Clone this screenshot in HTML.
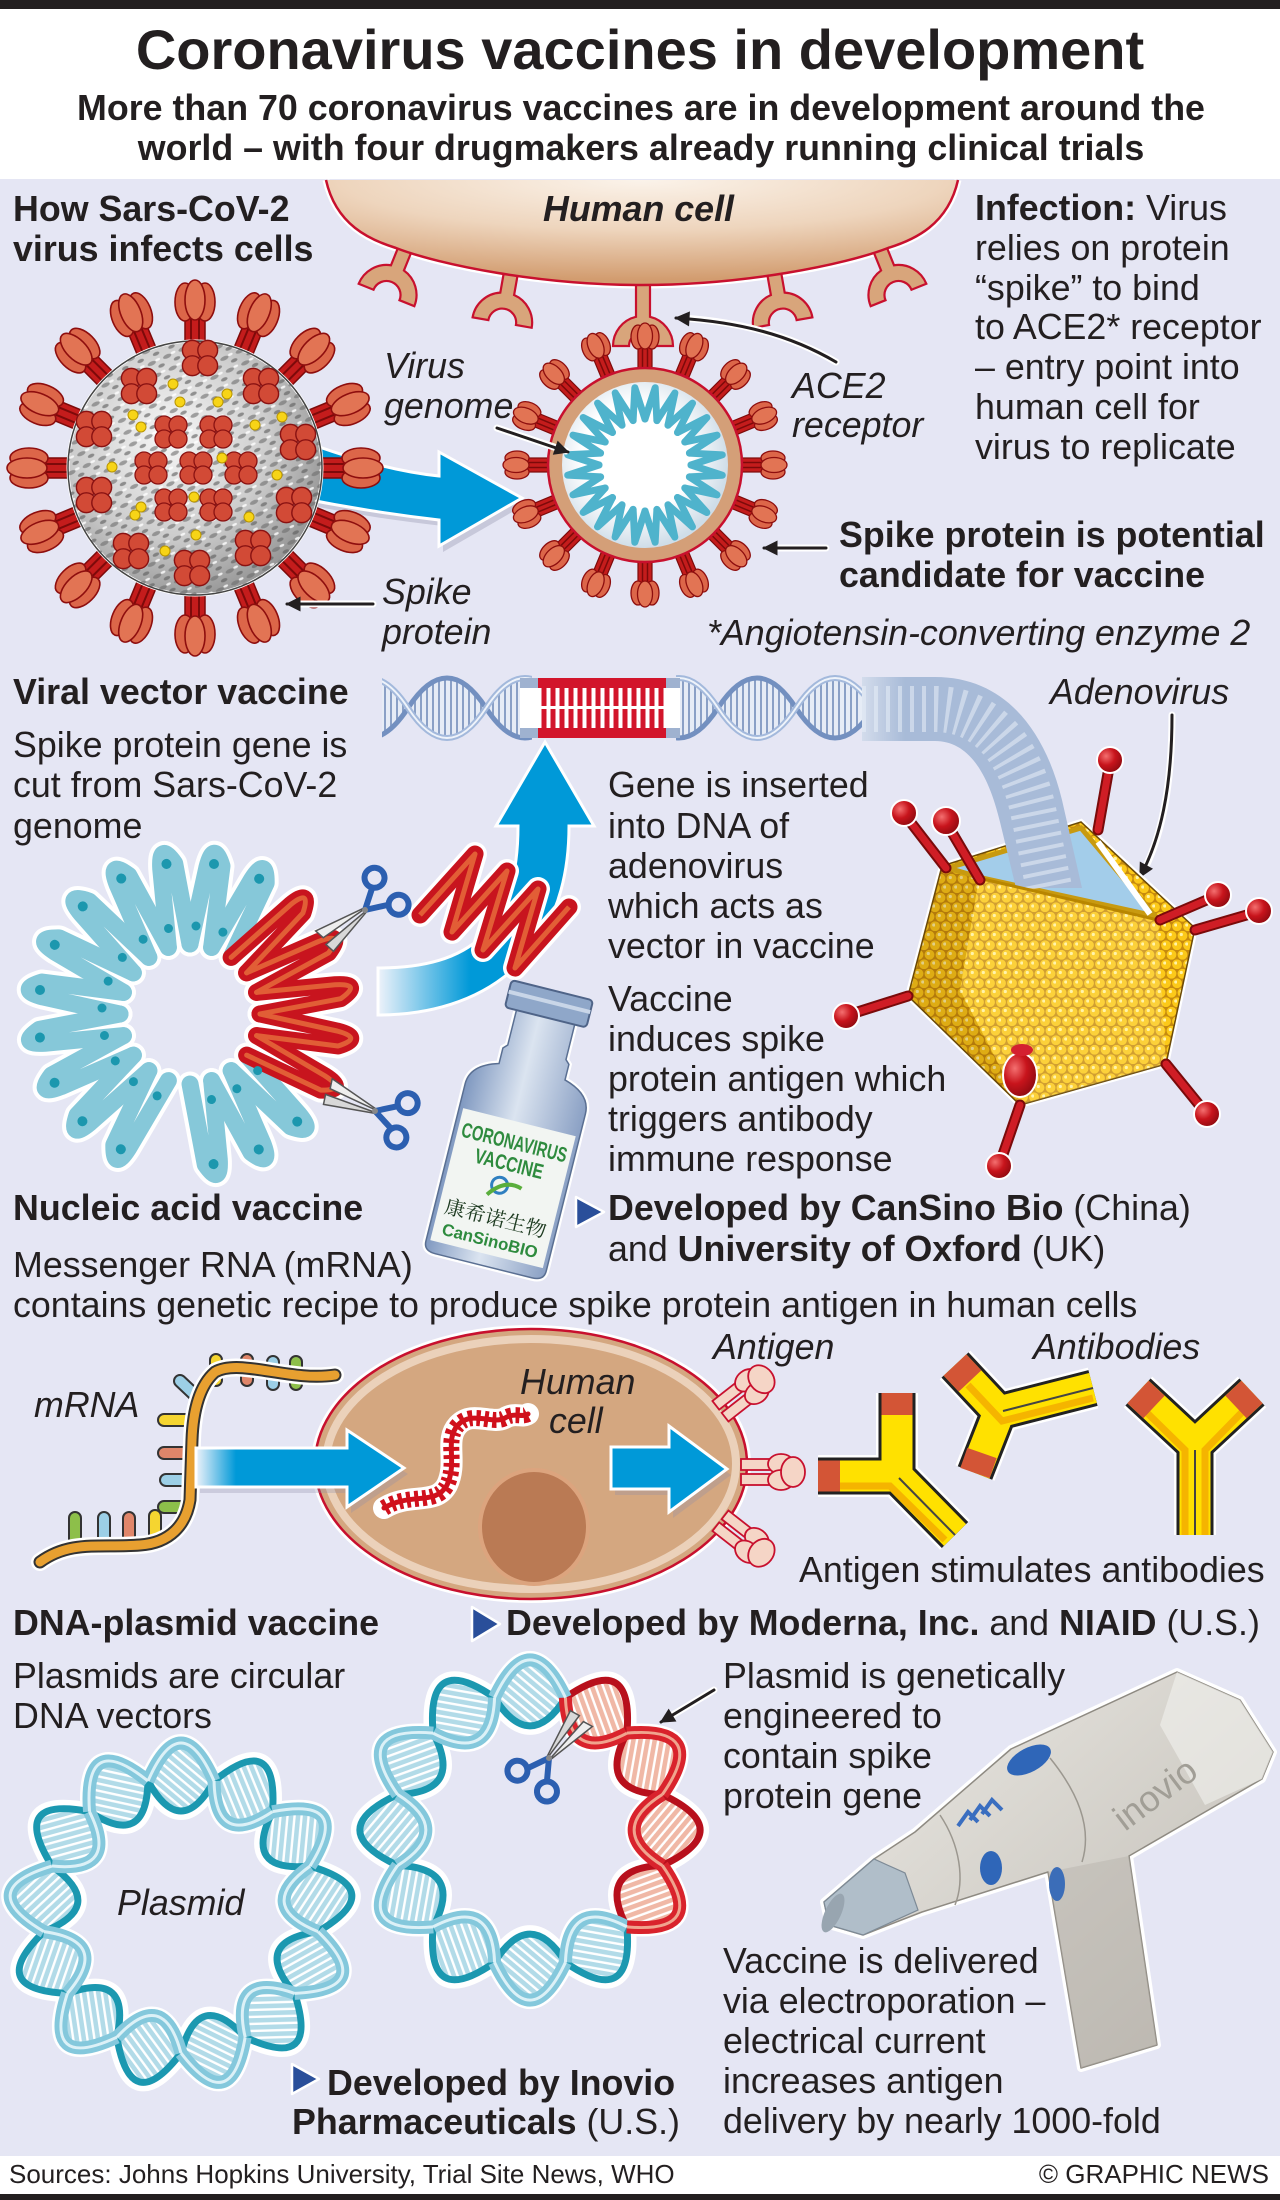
<!DOCTYPE html>
<html><head><meta charset="utf-8">
<style>
html,body{margin:0;padding:0;background:#e5e6f4;}
svg{display:block}
.f{font-family:"Liberation Sans",Arial,sans-serif}
.b{font-weight:bold}
.i{font-style:italic}
</style></head>
<body>
<svg width="1280" height="2200" viewBox="0 0 1280 2200" xmlns="http://www.w3.org/2000/svg">
<defs>
<radialGradient id="gCell" cx="0.5" cy="0" r="0.95">
 <stop offset="0" stop-color="#fbf3ea"/><stop offset="0.5" stop-color="#eed5bd"/><stop offset="1" stop-color="#d29c6f"/>
</radialGradient>
<radialGradient id="gSph" cx="0.4" cy="0.38" r="0.7">
 <stop offset="0" stop-color="#f7f7f7"/><stop offset="0.55" stop-color="#cdcdcd"/><stop offset="1" stop-color="#8c8c8c"/>
</radialGradient>
<pattern id="pSpk" width="17" height="13" patternUnits="userSpaceOnUse" patternTransform="rotate(-25)">
 <ellipse cx="5" cy="4" rx="4.5" ry="2" fill="#6c6c6c" opacity="0.6"/>
 <ellipse cx="13" cy="10" rx="3.5" ry="1.8" fill="#5a5a5a" opacity="0.6"/>
 <ellipse cx="12" cy="3" rx="2.5" ry="1.2" fill="#ffffff" opacity="0.8"/>
</pattern>
<radialGradient id="gIn" cx="0.45" cy="0.45" r="0.55">
 <stop offset="0" stop-color="#ffffff"/><stop offset="0.6" stop-color="#ffffff"/><stop offset="1" stop-color="#cfdde8"/>
</radialGradient>
<linearGradient id="gA2" x1="378" y1="0" x2="470" y2="0" gradientUnits="userSpaceOnUse">
 <stop offset="0" stop-color="#eef2fa"/><stop offset="1" stop-color="#0099d8"/>
</linearGradient>
<linearGradient id="gA3" x1="196" y1="0" x2="236" y2="0" gradientUnits="userSpaceOnUse">
 <stop offset="0" stop-color="#eef2fa"/><stop offset="1" stop-color="#0099d8"/>
</linearGradient>
<linearGradient id="gTube" x1="850" y1="0" x2="905" y2="0" gradientUnits="userSpaceOnUse">
 <stop offset="0" stop-color="#dfe5f1"/><stop offset="1" stop-color="#a8bbd8"/>
</linearGradient>
<pattern id="pV" width="6" height="10" patternUnits="userSpaceOnUse">
 <rect width="6" height="10" fill="#e6ecf6"/><rect width="2" height="10" fill="#8aa0c6"/>
</pattern>
<pattern id="pDot" width="11" height="19" patternUnits="userSpaceOnUse">
 <rect width="11" height="19" fill="#c68a0e"/>
 <circle cx="5.5" cy="4.75" r="4.9" fill="#fcc919"/>
 <circle cx="0" cy="14.25" r="4.9" fill="#fcc919"/>
 <circle cx="11" cy="14.25" r="4.9" fill="#fcc919"/>
 <circle cx="4.3" cy="3.5" r="1.6" fill="#fff3a8"/>
 <circle cx="9.8" cy="13" r="1.6" fill="#fff3a8"/>
</pattern>
<pattern id="pRB" width="7" height="7" patternUnits="userSpaceOnUse" patternTransform="rotate(40)">
 <rect width="7" height="7" fill="#b2dbe8"/><rect width="7" height="2.4" fill="#ffffff"/>
</pattern>
<pattern id="pRR" width="7" height="7" patternUnits="userSpaceOnUse" patternTransform="rotate(40)">
 <rect width="7" height="7" fill="#f0b8a6"/><rect width="7" height="2.4" fill="#ffffff"/>
</pattern>
<linearGradient id="gGlass" x1="0" y1="0" x2="1" y2="0">
 <stop offset="0" stop-color="#7f98c0"/><stop offset="0.45" stop-color="#dbe4f0"/><stop offset="1" stop-color="#8aa0c4"/>
</linearGradient>
<linearGradient id="gDev" x1="0" y1="0" x2="1" y2="1">
 <stop offset="0" stop-color="#eceae5"/><stop offset="1" stop-color="#bdb9b1"/>
</linearGradient>
<radialGradient id="gBall" cx="0.35" cy="0.35" r="0.7">
 <stop offset="0" stop-color="#f47070"/><stop offset="0.5" stop-color="#c8141c"/><stop offset="1" stop-color="#8e0a10"/>
</radialGradient>
<marker id="ah" viewBox="0 0 10 10" refX="9" refY="5" markerWidth="6" markerHeight="5" orient="auto" markerUnits="strokeWidth">
 <path d="M0,0 L10,5 L0,10 Z" fill="#231f20"/>
</marker>
<clipPath id="clL"><rect x="382" y="668" width="150" height="82"/></clipPath>
<clipPath id="clR"><rect x="676" y="668" width="200" height="82"/></clipPath>

<path id="rec" d="M-7,-42 L7,-42 L7,-1.2 A30,30 0 0 1 30,28 L14,28 A14,14 0 0 0 -14,28 L-30,28 A30,30 0 0 1 -7,-1.2 Z"/>
<g id="bs">
 <rect x="-10" y="-150" width="20" height="44" fill="#c41c1c" stroke="#7d0a0a" stroke-width="1.5"/>
 <path d="M-4,-150 V-106 M4,-150 V-106" stroke="#7d0a0a" stroke-width="2"/>
 <ellipse cx="-10" cy="-166" rx="10" ry="19" fill="#dc6649" stroke="#8e0e0e" stroke-width="1.6"/>
 <ellipse cx="10" cy="-166" rx="10" ry="19" fill="#dc6649" stroke="#8e0e0e" stroke-width="1.6"/>
 <ellipse cx="0" cy="-168" rx="10" ry="20" fill="#e27454" stroke="#8e0e0e" stroke-width="1.6"/>
</g>
<g id="ss">
 <rect x="-7" y="-120" width="14" height="32" fill="#c41c1c" stroke="#7d0a0a" stroke-width="1.2"/>
 <path d="M-2.5,-120 V-88 M2.5,-120 V-88" stroke="#7d0a0a" stroke-width="1.5"/>
 <ellipse cx="-7" cy="-128" rx="7" ry="12" fill="#dc6649" stroke="#8e0e0e" stroke-width="1.3"/>
 <ellipse cx="7" cy="-128" rx="7" ry="12" fill="#dc6649" stroke="#8e0e0e" stroke-width="1.3"/>
 <ellipse cx="0" cy="-129" rx="7.5" ry="13" fill="#e27454" stroke="#8e0e0e" stroke-width="1.3"/>
</g>
<g id="cl" fill="#d24a36" stroke="#8a1212" stroke-width="1.3">
 <circle cx="-7" cy="-7" r="9"/><circle cx="7" cy="-7" r="9"/><circle cx="-7" cy="7" r="9"/><circle cx="7" cy="7" r="9"/>
</g>
<path id="cu" d="M0,-70 L17,-147 Q24,-174 32,-148 L21.6,-66.6"/>
<g id="cuD" fill="#1c97ae"><circle cx="24" cy="-150" r="5"/><circle cx="6" cy="-88" r="4.5"/></g>
<path id="gv" d="M0,-46 L10.2,-77.3 L11.9,-44.4"/>
<path id="hlF" d="M0,0 Q39,-60 78,0 Q39,60 0,0Z"/>
<path id="hlU" d="M0,0 Q39,-60 78,0"/>
<path id="hlD" d="M0,0 Q39,60 78,0"/>
<path id="lpL" d="M-33,-134 Q0,-210 33,-134 Q0,-74 -33,-134Z"/>
<path id="loL" d="M-33,-134 Q0,-210 33,-134"/>
<path id="liL" d="M-33,-134 Q0,-74 33,-134"/>
<path id="lpR" d="M-35.5,-132.3 Q0,-208 35.5,-132.3 Q0,-76 -35.5,-132.3Z"/>
<path id="loR" d="M-35.5,-132.3 Q0,-208 35.5,-132.3"/>
<path id="liR" d="M-35.5,-132.3 Q0,-76 35.5,-132.3"/>
<g id="sc">
 <path d="M6,-1 L-52,-13 L-50,-3 Z" fill="#eeeeee" stroke="#555" stroke-width="1.5"/>
 <path d="M6,1 L-50,14 L-52,4 Z" fill="#d8d8d8" stroke="#555" stroke-width="1.5"/>
 <path d="M0,0 L20,-14 M0,0 L22,10" stroke="#2c5fb0" stroke-width="6" fill="none"/>
 <circle cx="27" cy="-20" r="10" fill="none" stroke="#2c5fb0" stroke-width="6"/>
 <circle cx="30" cy="16" r="10" fill="none" stroke="#2c5fb0" stroke-width="6"/>
 <circle r="3" fill="#888"/>
</g>
<g id="ag" fill="#f5d5c6" stroke="#c8102e" stroke-width="1.8">
 <rect x="-2" y="-13" width="32" height="11"/>
 <rect x="-2" y="2" width="32" height="11"/>
 <ellipse cx="38" cy="-8" rx="13" ry="10"/>
 <ellipse cx="38" cy="8" rx="13" ry="10"/>
 <ellipse cx="50" cy="0" rx="12" ry="15"/>
</g>
</defs>

<!-- backgrounds -->
<rect width="1280" height="2200" fill="#e5e6f4"/>
<rect width="1280" height="179" fill="#ffffff"/>
<rect width="1280" height="9" fill="#231f20"/>
<rect y="2156" width="1280" height="44" fill="#ffffff"/>
<rect y="2194" width="1280" height="6" fill="#231f20"/>

<!-- ===== Top human cell ===== -->
<path d="M326,180 C336,225 370,240 396,248 C440,265 540,285 642,285 C744,285 844,265 888,248 C914,240 948,225 958,180" fill="none" stroke="#fff" stroke-width="7"/>
<g fill="#d8a57b" stroke="#c8102e" stroke-width="2.2">
 <use href="#rec" transform="translate(397,269) rotate(22)"/>
 <use href="#rec" transform="translate(507,295) rotate(10)"/>
 <use href="#rec" transform="translate(643,318)"/>
 <use href="#rec" transform="translate(778,295) rotate(-10)"/>
 <use href="#rec" transform="translate(888,269) rotate(-22)"/>
</g>
<path d="M326,180 C336,225 370,240 396,248 C440,265 540,285 642,285 C744,285 844,265 888,248 C914,240 948,225 958,180 Z" fill="url(#gCell)"/>
<path d="M326,180 C336,225 370,240 396,248 C440,265 540,285 642,285 C744,285 844,265 888,248 C914,240 948,225 958,180" fill="none" stroke="#c8102e" stroke-width="2.5"/>

<!-- ===== Blue arrow 1 ===== -->
<path d="M304,446 Q380,476 443,482 L443,458 L526,504 L443,552 L443,526 Q370,518 304,504 Z" fill="#8e90a8" opacity="0.35"/>
<path d="M300,440 Q380,470 439,476 L439,452 L522,498 L439,546 L439,520 Q370,512 300,498 Z" fill="#0099d8" stroke="#fff" stroke-width="3"/>

<!-- ===== Left virus ===== -->
<g transform="translate(195,468)">
 <use href="#bs" transform="rotate(0)"/><use href="#bs" transform="rotate(22.5)"/><use href="#bs" transform="rotate(45)"/><use href="#bs" transform="rotate(67.5)"/>
 <use href="#bs" transform="rotate(90)"/><use href="#bs" transform="rotate(112.5)"/><use href="#bs" transform="rotate(135)"/><use href="#bs" transform="rotate(157.5)"/>
 <use href="#bs" transform="rotate(180)"/><use href="#bs" transform="rotate(202.5)"/><use href="#bs" transform="rotate(225)"/><use href="#bs" transform="rotate(247.5)"/>
 <use href="#bs" transform="rotate(270)"/><use href="#bs" transform="rotate(292.5)"/><use href="#bs" transform="rotate(315)"/><use href="#bs" transform="rotate(337.5)"/>
 <circle r="127" fill="url(#gSph)" stroke="#fff" stroke-width="3"/>
 <circle r="127" fill="url(#pSpk)"/>
 <circle r="127" fill="none" stroke="#444" stroke-width="1.5"/>
</g>
<g>
 <use href="#cl" transform="translate(171,432)"/><use href="#cl" transform="translate(216,432)"/>
 <use href="#cl" transform="translate(151,468)"/><use href="#cl" transform="translate(196,468)"/><use href="#cl" transform="translate(241,468)"/>
 <use href="#cl" transform="translate(171,505)"/><use href="#cl" transform="translate(216,505)"/>
 <use href="#cl" transform="translate(200,358) scale(1.1)"/><use href="#cl" transform="translate(139,386) scale(1.1)"/><use href="#cl" transform="translate(261,386) scale(1.1)"/>
 <use href="#cl" transform="translate(94,429) scale(1.1)"/><use href="#cl" transform="translate(298,442) scale(1.1)"/><use href="#cl" transform="translate(94,495) scale(1.1)"/>
 <use href="#cl" transform="translate(294,505) scale(1.1)"/><use href="#cl" transform="translate(131,551) scale(1.1)"/><use href="#cl" transform="translate(253,548) scale(1.1)"/>
 <use href="#cl" transform="translate(192,568) scale(1.1)"/>
</g>
<g fill="#f7d417" stroke="#b89500" stroke-width="1">
 <circle cx="173" cy="384" r="5"/><circle cx="180" cy="402" r="5"/><circle cx="133" cy="415" r="5"/><circle cx="141" cy="427" r="5"/>
 <circle cx="227" cy="394" r="5"/><circle cx="218" cy="402" r="5"/><circle cx="282" cy="417" r="5"/><circle cx="255" cy="425" r="5"/>
 <circle cx="112" cy="467" r="5"/><circle cx="222" cy="458" r="5"/><circle cx="277" cy="475" r="5"/><circle cx="141" cy="507" r="5"/>
 <circle cx="135" cy="515" r="5"/><circle cx="194" cy="497" r="5"/><circle cx="249" cy="517" r="5"/><circle cx="196" cy="535" r="5"/><circle cx="165" cy="551" r="5"/>
</g>

<!-- ===== Small virus ===== -->
<g transform="translate(645,465)">
 <use href="#ss" transform="rotate(0)"/><use href="#ss" transform="rotate(22.5)"/><use href="#ss" transform="rotate(45)"/><use href="#ss" transform="rotate(67.5)"/>
 <use href="#ss" transform="rotate(90)"/><use href="#ss" transform="rotate(112.5)"/><use href="#ss" transform="rotate(135)"/><use href="#ss" transform="rotate(157.5)"/>
 <use href="#ss" transform="rotate(180)"/><use href="#ss" transform="rotate(202.5)"/><use href="#ss" transform="rotate(225)"/><use href="#ss" transform="rotate(247.5)"/>
 <use href="#ss" transform="rotate(270)"/><use href="#ss" transform="rotate(292.5)"/><use href="#ss" transform="rotate(315)"/><use href="#ss" transform="rotate(337.5)"/>
 <circle r="97" fill="#d49f78" stroke="#c8102e" stroke-width="2.5"/>
 <circle r="83" fill="url(#gIn)"/>
 <g fill="none" stroke="#4fb3cc" stroke-width="7" stroke-linecap="round" stroke-linejoin="round">
  <use href="#gv" transform="rotate(0)"/><use href="#gv" transform="rotate(15)"/><use href="#gv" transform="rotate(30)"/><use href="#gv" transform="rotate(45)"/>
  <use href="#gv" transform="rotate(60)"/><use href="#gv" transform="rotate(75)"/><use href="#gv" transform="rotate(90)"/><use href="#gv" transform="rotate(105)"/>
  <use href="#gv" transform="rotate(120)"/><use href="#gv" transform="rotate(135)"/><use href="#gv" transform="rotate(150)"/><use href="#gv" transform="rotate(165)"/>
  <use href="#gv" transform="rotate(180)"/><use href="#gv" transform="rotate(195)"/><use href="#gv" transform="rotate(210)"/><use href="#gv" transform="rotate(225)"/>
  <use href="#gv" transform="rotate(240)"/><use href="#gv" transform="rotate(255)"/><use href="#gv" transform="rotate(270)"/><use href="#gv" transform="rotate(285)"/>
  <use href="#gv" transform="rotate(300)"/><use href="#gv" transform="rotate(315)"/><use href="#gv" transform="rotate(330)"/><use href="#gv" transform="rotate(345)"/>
 </g>
</g>

<!-- ===== pointer arrows ===== -->
<g fill="none" stroke-linecap="round">
 <g stroke="#fff" stroke-width="7">
  <path d="M497,428 L566,451"/><path d="M836,362 C790,335 740,322 682,318"/><path d="M826,548 L770,548"/><path d="M373,604 L293,604"/>
  <path d="M1172,715 C1172,790 1160,840 1143,872"/><path d="M714,1690 L666,1719"/>
 </g>
 <g stroke="#231f20" stroke-width="3" marker-end="url(#ah)">
  <path d="M497,428 L568,452"/><path d="M836,362 C790,335 740,322 676,318"/><path d="M826,548 L764,548"/><path d="M373,604 L287,604"/>
  <path d="M1172,715 C1172,790 1160,840 1140,877"/><path d="M714,1690 L661,1722"/>
 </g>
</g>

<!-- ===== Top DNA helix ===== -->
<g clip-path="url(#clL)">
 <use href="#hlF" transform="translate(330,708)" fill="url(#pV)"/><use href="#hlF" transform="translate(408,708)" fill="url(#pV)"/><use href="#hlF" transform="translate(486,708)" fill="url(#pV)"/>
 <g fill="none" stroke="#7390c0" stroke-width="5">
  <use href="#hlD" transform="translate(330,708)"/><use href="#hlU" transform="translate(408,708)"/><use href="#hlD" transform="translate(486,708)"/>
 </g>
 <g fill="none" stroke="#a3b9dc" stroke-width="6">
  <use href="#hlU" transform="translate(330,708)"/><use href="#hlD" transform="translate(408,708)"/><use href="#hlU" transform="translate(486,708)"/>
 </g>
 <g fill="none" stroke="#eef3fa" stroke-width="2">
  <use href="#hlU" transform="translate(330,708)"/><use href="#hlD" transform="translate(408,708)"/><use href="#hlU" transform="translate(486,708)"/>
 </g>
</g>
<g clip-path="url(#clR)">
 <use href="#hlF" transform="translate(640,708)" fill="url(#pV)"/><use href="#hlF" transform="translate(718,708)" fill="url(#pV)"/><use href="#hlF" transform="translate(796,708)" fill="url(#pV)"/>
 <g fill="none" stroke="#7390c0" stroke-width="5">
  <use href="#hlD" transform="translate(640,708)"/><use href="#hlU" transform="translate(718,708)"/><use href="#hlD" transform="translate(796,708)"/>
 </g>
 <g fill="none" stroke="#a3b9dc" stroke-width="6">
  <use href="#hlU" transform="translate(640,708)"/><use href="#hlD" transform="translate(718,708)"/><use href="#hlU" transform="translate(796,708)"/>
 </g>
 <g fill="none" stroke="#eef3fa" stroke-width="2">
  <use href="#hlU" transform="translate(640,708)"/><use href="#hlD" transform="translate(718,708)"/><use href="#hlU" transform="translate(796,708)"/>
 </g>
</g>
<!-- straight red section -->
<rect x="520" y="678" width="160" height="60" fill="#ffffff"/>
<rect x="520" y="678" width="18" height="10" fill="#9fb2d0"/><rect x="520" y="728" width="18" height="10" fill="#9fb2d0"/>
<rect x="666" y="678" width="14" height="10" fill="#9fb2d0"/><rect x="666" y="728" width="14" height="10" fill="#9fb2d0"/>
<rect x="538" y="678" width="128" height="10" fill="#d2152b"/><rect x="538" y="728" width="128" height="10" fill="#d2152b"/>
<path d="M544,688 V728 M553,688 V728 M562,688 V728 M571,688 V728 M580,688 V728 M589,688 V728 M598,688 V728 M607,688 V728 M616,688 V728 M625,688 V728 M634,688 V728 M643,688 V728 M652,688 V728 M661,688 V728" stroke="#d2152b" stroke-width="5"/>
<rect x="538" y="706" width="128" height="3" fill="#ffffff"/>

<!-- ===== Adenovirus ===== -->
<path d="M942,866 L1081,822 L1195,928 L1166,1064 L1020,1105 L908,996 Z" fill="url(#pDot)" stroke="#fff" stroke-width="6"/>
<path d="M942,866 L1081,822 L1195,928 L1166,1064 L1020,1105 L908,996 Z" fill="url(#pDot)" stroke="#6b4a08" stroke-width="1.5"/>
<path d="M942,866 L979,878 L960,990 L1020,1105 L908,996 Z" fill="#6a3c00" opacity="0.2"/>
<path d="M979,878 L1158,920 L1166,1064 L1020,1105 L960,990 Z" fill="#fff6c0" opacity="0.2"/>
<path d="M948,868 L1081,828 L1155,916 L982,878 Z" fill="#a3cdea" stroke="#c89a10" stroke-width="5"/>
<path d="M1098,842 L1150,914" stroke="#fff" stroke-width="6"/>
<path d="M862,677 L935,677 C1005,677 1045,730 1062,800 L1082,888 L1016,888 L1000,822 C988,772 968,741 935,741 L862,741 Z" fill="url(#gTube)"/>
<path d="M862,709 L935,709 C987,709 1020,750 1033,810 L1049,888" fill="none" stroke="#e8eef8" stroke-opacity="0.55" stroke-width="46" stroke-dasharray="4 8"/>
<path d="M979,878 L1158,920" stroke="#b88600" stroke-width="3"/>
<g stroke-linecap="round">
 <g stroke="#7a0a0a" stroke-width="11">
  <path d="M1098,830 L1110,762"/><path d="M946,868 L905,815"/><path d="M980,880 L947,824"/><path d="M1160,920 L1216,896"/>
  <path d="M1195,930 L1257,912"/><path d="M908,996 L848,1015"/><path d="M1166,1064 L1205,1112"/><path d="M1020,1105 L1000,1163"/>
 </g>
 <g stroke="#cf1d25" stroke-width="7">
  <path d="M1098,830 L1110,762"/><path d="M946,868 L905,815"/><path d="M980,880 L947,824"/><path d="M1160,920 L1216,896"/>
  <path d="M1195,930 L1257,912"/><path d="M908,996 L848,1015"/><path d="M1166,1064 L1205,1112"/><path d="M1020,1105 L1000,1163"/>
 </g>
</g>
<g fill="url(#gBall)" stroke="#fff" stroke-width="2">
 <circle cx="1110" cy="760" r="13"/><circle cx="904" cy="813" r="13"/><circle cx="946" cy="821" r="14"/><circle cx="1218" cy="895" r="13"/>
 <circle cx="1259" cy="911" r="13"/><circle cx="846" cy="1016" r="13"/><circle cx="1207" cy="1114" r="13"/><circle cx="999" cy="1166" r="13"/>
 <ellipse cx="1020" cy="1075" rx="17" ry="22"/>
</g>
<ellipse cx="1022" cy="1050" rx="11" ry="6" fill="#d42030"/>

<!-- ===== Coil ===== -->
<g transform="translate(190,1014)" stroke-linecap="round" stroke-linejoin="round" fill="none">
 <g stroke="#ffffff" stroke-width="25">
  <use href="#cu" transform="rotate(0)"/><use href="#cu" transform="rotate(18)"/><use href="#cu" transform="rotate(36)"/><use href="#cu" transform="rotate(54)"/>
  <use href="#cu" transform="rotate(72)"/><use href="#cu" transform="rotate(90)"/><use href="#cu" transform="rotate(108)"/><use href="#cu" transform="rotate(126)"/>
  <use href="#cu" transform="rotate(144)"/><use href="#cu" transform="rotate(162)"/><use href="#cu" transform="rotate(198)"/><use href="#cu" transform="rotate(216)"/>
  <use href="#cu" transform="rotate(234)"/><use href="#cu" transform="rotate(252)"/><use href="#cu" transform="rotate(270)"/><use href="#cu" transform="rotate(288)"/>
  <use href="#cu" transform="rotate(306)"/><use href="#cu" transform="rotate(324)"/><use href="#cu" transform="rotate(342)"/>
 </g>
 <g stroke="#86c8d9" stroke-width="17">
  <use href="#cu" transform="rotate(0)"/><use href="#cu" transform="rotate(18)"/><use href="#cu" transform="rotate(126)"/>
  <use href="#cu" transform="rotate(144)"/><use href="#cu" transform="rotate(162)"/><use href="#cu" transform="rotate(198)"/><use href="#cu" transform="rotate(216)"/>
  <use href="#cu" transform="rotate(234)"/><use href="#cu" transform="rotate(252)"/><use href="#cu" transform="rotate(270)"/><use href="#cu" transform="rotate(288)"/>
  <use href="#cu" transform="rotate(306)"/><use href="#cu" transform="rotate(324)"/><use href="#cu" transform="rotate(342)"/>
 </g>
 <g stroke="#c8141e" stroke-width="17">
  <use href="#cu" transform="rotate(36)"/><use href="#cu" transform="rotate(54)"/><use href="#cu" transform="rotate(72)"/><use href="#cu" transform="rotate(90)"/><use href="#cu" transform="rotate(108)"/>
 </g>
 <g stroke="#e8713c" stroke-width="5" opacity="0.8">
  <use href="#cu" transform="rotate(36)"/><use href="#cu" transform="rotate(54)"/><use href="#cu" transform="rotate(72)"/><use href="#cu" transform="rotate(90)"/><use href="#cu" transform="rotate(108)"/>
 </g>
 <g stroke="none">
  <use href="#cuD" transform="rotate(0)"/><use href="#cuD" transform="rotate(18)"/><use href="#cuD" transform="rotate(126)"/>
  <use href="#cuD" transform="rotate(144)"/><use href="#cuD" transform="rotate(162)"/><use href="#cuD" transform="rotate(198)"/><use href="#cuD" transform="rotate(216)"/>
  <use href="#cuD" transform="rotate(234)"/><use href="#cuD" transform="rotate(252)"/><use href="#cuD" transform="rotate(270)"/><use href="#cuD" transform="rotate(288)"/>
  <use href="#cuD" transform="rotate(306)"/><use href="#cuD" transform="rotate(324)"/><use href="#cuD" transform="rotate(342)"/>
 </g>
</g>

<!-- ===== Blue arrow 2 (curved up) ===== -->
<path d="M378,968 C470,968 518,930 518,826 L496,826 L545,742 L594,826 L569,826 C569,960 480,1015 378,1015 Z" fill="url(#gA2)" stroke="#fff" stroke-width="3"/>

<!-- red cut piece -->
<path d="M420,915 L475,854 L452,932 L507,871 L483,950 L538,889 L515,968 L569,907" fill="none" stroke="#fff" stroke-width="24" stroke-linejoin="round" stroke-linecap="round"/>
<path d="M420,915 L475,854 L452,932 L507,871 L483,950 L538,889 L515,968 L569,907" fill="none" stroke="#c8141e" stroke-width="17" stroke-linejoin="round" stroke-linecap="round"/>
<path d="M420,915 L475,854 L452,932 L507,871 L483,950 L538,889 L515,968 L569,907" fill="none" stroke="#e8713c" stroke-width="5" opacity="0.8" stroke-linejoin="round"/>

<use href="#sc" transform="translate(365,910) rotate(-37)"/>
<use href="#sc" transform="translate(375,1111) rotate(23)"/>

<!-- ===== Vial ===== -->
<g transform="translate(518,1128) rotate(14)">
 <path d="M-62,-30 Q-62,-50 -34,-58 L-34,-74 L-30,-78 L-30,-116 L30,-116 L30,-78 L34,-74 L34,-58 Q62,-50 62,-30 L62,132 Q62,142 50,142 L-50,142 Q-62,142 -62,132 Z" fill="url(#gGlass)" stroke="#fff" stroke-width="6"/>
 <path d="M-62,-30 Q-62,-50 -34,-58 L-34,-74 L-30,-78 L-30,-116 L30,-116 L30,-78 L34,-74 L34,-58 Q62,-50 62,-30 L62,132 Q62,142 50,142 L-50,142 Q-62,142 -62,132 Z" fill="url(#gGlass)" stroke="#5a6f92" stroke-width="1.5"/>
 <rect x="-42" y="-142" width="84" height="28" rx="4" fill="#8fa7c9" stroke="#4f6488" stroke-width="2"/>
 <rect x="-42" y="-132" width="84" height="4" fill="#c9d6e8"/>
 <rect x="-58" y="-6" width="116" height="136" fill="#f2f5f2"/>
 <text x="0" y="22" text-anchor="middle" font-family="Liberation Sans, Arial, sans-serif" font-weight="bold" font-size="21" fill="#2e8b3e" textLength="108" lengthAdjust="spacingAndGlyphs">CORONAVIRUS</text>
 <text x="0" y="44" text-anchor="middle" font-family="Liberation Sans, Arial, sans-serif" font-weight="bold" font-size="21" fill="#2e8b3e" textLength="70" lengthAdjust="spacingAndGlyphs">VACCINE</text>
 <circle cx="-4" cy="60" r="8" fill="none" stroke="#2f7fc0" stroke-width="3"/>
 <path d="M-14,72 Q0,52 18,58" stroke="#5aae3c" stroke-width="4" fill="none"/>
 <text x="0" y="100" text-anchor="middle" font-family="Liberation Sans, Noto Serif CJK SC, serif" font-size="20" fill="#1d3a20" textLength="104" lengthAdjust="spacingAndGlyphs">康希诺生物</text>
 <text x="0" y="122" text-anchor="middle" font-family="Liberation Sans, Arial, sans-serif" font-weight="bold" font-size="17" fill="#2e8b3e" textLength="98" lengthAdjust="spacingAndGlyphs">CanSinoBIO</text>
</g>

<!-- bullets -->
<g fill="#2a4f9a" stroke="#fff" stroke-width="2.5" stroke-linejoin="round">
 <path d="M576,1197 L604,1212 L576,1227 Z"/>
 <path d="M472,1607 L500,1624 L472,1641 Z"/>
 <path d="M292,2064 L319,2079 L292,2094 Z"/>
</g>

<!-- ===== mRNA ===== -->
<g stroke-linecap="round">
 <g stroke="#333" stroke-width="14">
  <path d="M75,1540 V1518 M104,1540 V1518 M129,1540 V1518 M155,1538 V1516"/>
  <path d="M186,1420 H164 M186,1453 H164 M188,1480 H166 M186,1507 H164"/>
  <path d="M198,1398 L180,1381 M216,1380 V1360 M247,1380 V1360 M273,1384 V1362 M296,1384 V1362"/>
 </g>
 <g stroke-width="10">
  <path d="M75,1540 V1518" stroke="#8dbf4a"/><path d="M104,1540 V1518" stroke="#9ccfe6"/><path d="M129,1540 V1518" stroke="#e0866a"/><path d="M155,1538 V1516" stroke="#f5d530"/>
  <path d="M186,1420 H164" stroke="#f5d530"/><path d="M186,1453 H164" stroke="#e0866a"/><path d="M188,1480 H166" stroke="#9ccfe6"/><path d="M186,1507 H164" stroke="#8dbf4a"/>
  <path d="M198,1398 L180,1381" stroke="#9ccfe6"/><path d="M216,1380 V1360" stroke="#f5d530"/><path d="M247,1380 V1360" stroke="#e0866a"/><path d="M273,1384 V1362" stroke="#9ccfe6"/><path d="M296,1384 V1362" stroke="#8dbf4a"/>
 </g>
</g>
<path d="M40,1562 C70,1540 100,1548 140,1545 C170,1543 186,1525 190,1500 L192,1440 C193,1410 200,1385 215,1372 C240,1358 290,1382 335,1375" fill="none" stroke="#fff" stroke-width="18" stroke-linecap="round"/>
<path d="M40,1562 C70,1540 100,1548 140,1545 C170,1543 186,1525 190,1500 L192,1440 C193,1410 200,1385 215,1372 C240,1358 290,1382 335,1375" fill="none" stroke="#333" stroke-width="13" stroke-linecap="round"/>
<path d="M40,1562 C70,1540 100,1548 140,1545 C170,1543 186,1525 190,1500 L192,1440 C193,1410 200,1385 215,1372 C240,1358 290,1382 335,1375" fill="none" stroke="#e8a030" stroke-width="9" stroke-linecap="round"/>

<!-- ===== Cell 2 ===== -->
<ellipse cx="531" cy="1464" rx="216" ry="135" fill="none" stroke="#fff" stroke-width="8"/>
<ellipse cx="531" cy="1464" rx="216" ry="135" fill="#d4a780"/>
<ellipse cx="531" cy="1464" rx="205" ry="125" fill="none" stroke="#f3dfcd" stroke-width="8" opacity="0.75"/>
<ellipse cx="531" cy="1464" rx="216" ry="135" fill="none" stroke="#c8102e" stroke-width="2.5"/>
<ellipse cx="534" cy="1527" rx="54" ry="57" fill="#ba7a54" stroke="#dca47e" stroke-width="4"/>
<path d="M384,1508 C410,1492 436,1506 447,1485 C458,1462 444,1440 458,1425 C472,1410 492,1425 505,1418 C515,1412 522,1418 528,1414" fill="none" stroke="#fff" stroke-width="22" stroke-linecap="round"/>
<path d="M384,1508 C410,1492 436,1506 447,1485 C458,1462 444,1440 458,1425 C472,1410 492,1425 505,1418 C515,1412 522,1418 528,1414" fill="none" stroke="#d0101c" stroke-width="16" stroke-dasharray="4 4"/>
<path d="M384,1508 C410,1492 436,1506 447,1485 C458,1462 444,1440 458,1425 C472,1410 492,1425 505,1418 C515,1412 522,1418 528,1414" fill="none" stroke="#d0101c" stroke-width="5" stroke-linecap="round"/>

<!-- blue arrows 3,4 -->
<path d="M200,1454 L351,1454 L351,1436 L408,1474 L351,1513 L351,1493 L200,1493 Z" fill="#8e90a8" opacity="0.3"/>
<path d="M196,1448 L347,1448 L347,1430 L404,1468 L347,1507 L347,1487 L196,1487 Z" fill="url(#gA3)" stroke="#fff" stroke-width="3"/>
<path d="M615,1453 L673,1453 L673,1432 L731,1475 L673,1518 L673,1495 L615,1495 Z" fill="#8e90a8" opacity="0.3"/>
<path d="M611,1447 L669,1447 L669,1426 L727,1469 L669,1512 L669,1489 L611,1489 Z" fill="#0099d8" stroke="#fff" stroke-width="3"/>

<!-- antigens -->
<use href="#ag" transform="translate(722,1410) rotate(-38)"/>
<use href="#ag" transform="translate(743,1472)"/>
<use href="#ag" transform="translate(722,1522) rotate(38)"/>

<!-- antibodies -->
<g fill="none" stroke-linejoin="miter">
 <g stroke="#fff" stroke-width="42">
  <path d="M1195,1535 L1195,1445 L1138,1392 M1195,1445 L1252,1392"/>
  <path d="M955,1535 L897,1476 L818,1476 M897,1476 L897,1393"/>
  <path d="M1093,1388 L999,1412 L955,1365 M999,1412 L975,1473"/>
 </g>
 <g stroke="#222" stroke-width="37">
  <path d="M1195,1535 L1195,1445 L1138,1392 M1195,1445 L1252,1392"/>
  <path d="M955,1535 L897,1476 L818,1476 M897,1476 L897,1393"/>
  <path d="M1093,1388 L999,1412 L955,1365 M999,1412 L975,1473"/>
 </g>
 <g stroke="#ffe100" stroke-width="31">
  <path d="M1195,1535 L1195,1445 L1138,1392 M1195,1445 L1252,1392"/>
  <path d="M955,1535 L897,1476 L818,1476 M897,1476 L897,1393"/>
  <path d="M1093,1388 L999,1412 L955,1365 M999,1412 L975,1473"/>
 </g>
 <g stroke="#f5b400" stroke-width="7">
  <path d="M1185,1535 L1185,1450 L1138,1404"/><path d="M1205,1535 L1205,1450 L1250,1404"/>
  <path d="M945,1540 L890,1486 L818,1486"/>
  <path d="M1093,1398 L1002,1421 L968,1385"/>
 </g>
 <g stroke="#d35536" stroke-width="31" stroke-linecap="butt">
  <path d="M1154,1407 L1138,1392"/><path d="M1236,1407 L1252,1392"/>
  <path d="M840,1476 L818,1476"/><path d="M897,1415 L897,1393"/>
  <path d="M970,1381 L955,1365"/><path d="M982,1453 L975,1473"/>
 </g>
 <g stroke="#444" stroke-width="2">
  <path d="M1195,1535 L1195,1450"/><path d="M955,1535 L899,1478"/><path d="M1093,1388 L1003,1411"/>
 </g>
</g>

<!-- ===== Plasmids ===== -->
<g transform="translate(181,1915)">
 <g fill="none" stroke="#fff" stroke-width="18">
  <use href="#lpL" transform="rotate(0)"/><use href="#lpL" transform="rotate(27.69)"/><use href="#lpL" transform="rotate(55.38)"/><use href="#lpL" transform="rotate(83.08)"/>
  <use href="#lpL" transform="rotate(110.77)"/><use href="#lpL" transform="rotate(138.46)"/><use href="#lpL" transform="rotate(166.15)"/><use href="#lpL" transform="rotate(193.85)"/>
  <use href="#lpL" transform="rotate(221.54)"/><use href="#lpL" transform="rotate(249.23)"/><use href="#lpL" transform="rotate(276.92)"/><use href="#lpL" transform="rotate(304.62)"/><use href="#lpL" transform="rotate(332.31)"/>
 </g>
 <g fill="url(#pRB)">
  <use href="#lpL" transform="rotate(0)"/><use href="#lpL" transform="rotate(27.69)"/><use href="#lpL" transform="rotate(55.38)"/><use href="#lpL" transform="rotate(83.08)"/>
  <use href="#lpL" transform="rotate(110.77)"/><use href="#lpL" transform="rotate(138.46)"/><use href="#lpL" transform="rotate(166.15)"/><use href="#lpL" transform="rotate(193.85)"/>
  <use href="#lpL" transform="rotate(221.54)"/><use href="#lpL" transform="rotate(249.23)"/><use href="#lpL" transform="rotate(276.92)"/><use href="#lpL" transform="rotate(304.62)"/><use href="#lpL" transform="rotate(332.31)"/>
 </g>
 <g fill="none" stroke="#1b98b0" stroke-width="7">
  <use href="#liL" transform="rotate(0)"/><use href="#loL" transform="rotate(27.69)"/><use href="#liL" transform="rotate(55.38)"/><use href="#loL" transform="rotate(83.08)"/>
  <use href="#liL" transform="rotate(110.77)"/><use href="#loL" transform="rotate(138.46)"/><use href="#liL" transform="rotate(166.15)"/><use href="#loL" transform="rotate(193.85)"/>
  <use href="#liL" transform="rotate(221.54)"/><use href="#loL" transform="rotate(249.23)"/><use href="#liL" transform="rotate(276.92)"/><use href="#loL" transform="rotate(304.62)"/><use href="#liL" transform="rotate(332.31)"/>
 </g>
 <g fill="none" stroke="#84c8dc" stroke-width="13">
  <use href="#loL" transform="rotate(0)"/><use href="#liL" transform="rotate(27.69)"/><use href="#loL" transform="rotate(55.38)"/><use href="#liL" transform="rotate(83.08)"/>
  <use href="#loL" transform="rotate(110.77)"/><use href="#liL" transform="rotate(138.46)"/><use href="#loL" transform="rotate(166.15)"/><use href="#liL" transform="rotate(193.85)"/>
  <use href="#loL" transform="rotate(221.54)"/><use href="#liL" transform="rotate(249.23)"/><use href="#loL" transform="rotate(276.92)"/><use href="#liL" transform="rotate(304.62)"/><use href="#loL" transform="rotate(332.31)"/>
 </g>
 <g fill="none" stroke="#dcf1f7" stroke-width="3">
  <use href="#loL" transform="rotate(0)"/><use href="#liL" transform="rotate(27.69)"/><use href="#loL" transform="rotate(55.38)"/><use href="#liL" transform="rotate(83.08)"/>
  <use href="#loL" transform="rotate(110.77)"/><use href="#liL" transform="rotate(138.46)"/><use href="#loL" transform="rotate(166.15)"/><use href="#liL" transform="rotate(193.85)"/>
  <use href="#loL" transform="rotate(221.54)"/><use href="#liL" transform="rotate(249.23)"/><use href="#loL" transform="rotate(276.92)"/><use href="#liL" transform="rotate(304.62)"/><use href="#loL" transform="rotate(332.31)"/>
 </g>
</g>

<g transform="translate(530,1830)">
 <g fill="none" stroke="#fff" stroke-width="18">
  <use href="#lpR" transform="rotate(0)"/><use href="#lpR" transform="rotate(30)"/><use href="#lpR" transform="rotate(60)"/><use href="#lpR" transform="rotate(90)"/>
  <use href="#lpR" transform="rotate(120)"/><use href="#lpR" transform="rotate(150)"/><use href="#lpR" transform="rotate(180)"/><use href="#lpR" transform="rotate(210)"/>
  <use href="#lpR" transform="rotate(240)"/><use href="#lpR" transform="rotate(270)"/><use href="#lpR" transform="rotate(300)"/><use href="#lpR" transform="rotate(330)"/>
 </g>
 <g fill="url(#pRB)">
  <use href="#lpR" transform="rotate(0)"/><use href="#lpR" transform="rotate(150)"/><use href="#lpR" transform="rotate(180)"/><use href="#lpR" transform="rotate(210)"/>
  <use href="#lpR" transform="rotate(240)"/><use href="#lpR" transform="rotate(270)"/><use href="#lpR" transform="rotate(300)"/><use href="#lpR" transform="rotate(330)"/>
 </g>
 <g fill="url(#pRR)">
  <use href="#lpR" transform="rotate(30)"/><use href="#lpR" transform="rotate(60)"/><use href="#lpR" transform="rotate(90)"/><use href="#lpR" transform="rotate(120)"/>
 </g>
 <g fill="none" stroke="#1b98b0" stroke-width="7">
  <use href="#liR" transform="rotate(0)"/><use href="#loR" transform="rotate(150)"/><use href="#liR" transform="rotate(180)"/><use href="#loR" transform="rotate(210)"/>
  <use href="#liR" transform="rotate(240)"/><use href="#loR" transform="rotate(270)"/><use href="#liR" transform="rotate(300)"/><use href="#loR" transform="rotate(330)"/>
 </g>
 <g fill="none" stroke="#b8101c" stroke-width="7">
  <use href="#loR" transform="rotate(30)"/><use href="#liR" transform="rotate(60)"/><use href="#loR" transform="rotate(90)"/><use href="#liR" transform="rotate(120)"/>
 </g>
 <g fill="none" stroke="#84c8dc" stroke-width="13">
  <use href="#loR" transform="rotate(0)"/><use href="#liR" transform="rotate(150)"/><use href="#loR" transform="rotate(180)"/><use href="#liR" transform="rotate(210)"/>
  <use href="#loR" transform="rotate(240)"/><use href="#liR" transform="rotate(270)"/><use href="#loR" transform="rotate(300)"/><use href="#liR" transform="rotate(330)"/>
 </g>
 <g fill="none" stroke="#d9232c" stroke-width="13">
  <use href="#liR" transform="rotate(30)"/><use href="#loR" transform="rotate(60)"/><use href="#liR" transform="rotate(90)"/><use href="#loR" transform="rotate(120)"/>
 </g>
 <g fill="none" stroke="#f0a48e" stroke-width="3">
  <use href="#liR" transform="rotate(30)"/><use href="#loR" transform="rotate(60)"/><use href="#liR" transform="rotate(90)"/><use href="#loR" transform="rotate(120)"/>
 </g>
 <g fill="none" stroke="#dcf1f7" stroke-width="3">
  <use href="#loR" transform="rotate(0)"/><use href="#liR" transform="rotate(150)"/><use href="#loR" transform="rotate(180)"/><use href="#liR" transform="rotate(210)"/>
  <use href="#loR" transform="rotate(240)"/><use href="#liR" transform="rotate(270)"/><use href="#loR" transform="rotate(300)"/><use href="#liR" transform="rotate(330)"/>
 </g>
</g>
<use href="#sc" transform="translate(549,1758) rotate(130)"/>

<!-- ===== Electroporation device ===== -->
<path d="M824,1902 L874,1859 L915,1832 L1011,1749 L1177,1672 L1240,1700 L1273,1752 L1262,1779 L1129,1856 L1157,2045 L1081,2068 L1048,1872 L922,1912 L863,1935 L829,1925 Z" fill="none" stroke="#fff" stroke-width="8" stroke-linejoin="round"/>
<path d="M824,1902 L874,1859 L915,1832 L1011,1749 L1177,1672 L1240,1700 L1273,1752 L1262,1779 L1129,1856 L1157,2045 L1081,2068 L1048,1872 L922,1912 L863,1935 L829,1925 Z" fill="url(#gDev)" stroke="#8e8a82" stroke-width="1.5" stroke-linejoin="round"/>
<path d="M1177,1672 L1240,1700 L1273,1752 L1262,1779 L1205,1805 L1160,1725 Z" fill="#f2f1ee" opacity="0.6"/>
<path d="M1048,1872 L1129,1856 L1157,2045 L1081,2068 Z" fill="#b6b2aa" opacity="0.45"/>
<path d="M824,1902 L874,1859 L905,1873 L918,1910 L863,1935 L829,1925 Z" fill="#b0bec9" stroke="#7d8a96" stroke-width="1.2"/>
<ellipse cx="833" cy="1913" rx="8" ry="21" transform="rotate(25 833 1913)" fill="#98a5b0"/>
<path d="M1050,1758 C1080,1795 1092,1830 1082,1862" fill="none" stroke="#9b978f" stroke-width="1.5"/>
<path d="M940,1815 C960,1845 965,1880 955,1905" fill="none" stroke="#9b978f" stroke-width="1.5"/>
<ellipse cx="1029" cy="1760" rx="24" ry="12" transform="rotate(-28 1029 1760)" fill="#2f66b8"/>
<ellipse cx="991" cy="1868" rx="11" ry="17" fill="#2f66b8"/>
<ellipse cx="1057" cy="1884" rx="8" ry="17" fill="#3b6db8"/>
<path d="M958,1826 L968,1812 L978,1822 M970,1820 L980,1806 L990,1816 M982,1814 L992,1800 L1002,1810" stroke="#3a6ec0" stroke-width="4" fill="none"/>
<text x="1125" y="1832" transform="rotate(-37 1125 1832)" font-family="Liberation Sans, Arial, sans-serif" font-size="36" fill="#a19e96">inovio</text>

<!-- ===== TEXT ===== -->
<g class="f" fill="#231f20" font-size="35.8">
 <text x="640" y="69" text-anchor="middle" font-size="56" class="b">Coronavirus vaccines in development</text>
 <text x="641" y="120" text-anchor="middle" class="b">More than 70 coronavirus vaccines are in development around the</text>
 <text x="641" y="160" text-anchor="middle" class="b">world – with four drugmakers already running clinical trials</text>

 <text x="13" y="221" class="b">How Sars-CoV-2</text>
 <text x="13" y="261" class="b">virus infects cells</text>
 <text x="543" y="221" class="b i">Human cell</text>

 <text x="975" y="220"><tspan class="b">Infection:</tspan> Virus</text>
 <text x="975" y="260">relies on protein</text>
 <text x="975" y="300">“spike” to bind</text>
 <text x="975" y="339">to ACE2* receptor</text>
 <text x="975" y="379">– entry point into</text>
 <text x="975" y="419">human cell for</text>
 <text x="975" y="459">virus to replicate</text>

 <text x="384" y="378" class="i">Virus</text>
 <text x="384" y="418" class="i">genome</text>
 <text x="792" y="398" class="i">ACE2</text>
 <text x="792" y="437" class="i">receptor</text>
 <text x="839" y="547" class="b">Spike protein is potential</text>
 <text x="839" y="587" class="b">candidate for vaccine</text>
 <text x="382" y="604" class="i">Spike</text>
 <text x="382" y="644" class="i">protein</text>
 <text x="707" y="645" class="i">*Angiotensin-converting enzyme 2</text>

 <text x="13" y="704" class="b">Viral vector vaccine</text>
 <text x="13" y="757">Spike protein gene is</text>
 <text x="13" y="797">cut from Sars-CoV-2</text>
 <text x="13" y="838">genome</text>
 <text x="1050" y="704" class="i">Adenovirus</text>

 <text x="608" y="797">Gene is inserted</text>
 <text x="608" y="838">into DNA of</text>
 <text x="608" y="878">adenovirus</text>
 <text x="608" y="918">which acts as</text>
 <text x="608" y="958">vector in vaccine</text>
 <text x="608" y="1011">Vaccine</text>
 <text x="608" y="1051">induces spike</text>
 <text x="608" y="1091">protein antigen which</text>
 <text x="608" y="1131">triggers antibody</text>
 <text x="608" y="1171">immune response</text>

 <text x="13" y="1220" class="b">Nucleic acid vaccine</text>
 <text x="608" y="1220"><tspan class="b">Developed by CanSino Bio</tspan> (China)</text>
 <text x="608" y="1261">and <tspan class="b">University of Oxford</tspan> (UK)</text>
 <text x="13" y="1277">Messenger RNA (mRNA)</text>
 <text x="13" y="1317">contains genetic recipe to produce spike protein antigen in human cells</text>

 <text x="713" y="1359" class="i">Antigen</text>
 <text x="1033" y="1359" class="i">Antibodies</text>
 <text x="34" y="1417" class="i">mRNA</text>
 <text x="520" y="1394" class="i">Human</text>
 <text x="549" y="1433" class="i">cell</text>
 <text x="799" y="1582">Antigen stimulates antibodies</text>

 <text x="13" y="1635" class="b">DNA-plasmid vaccine</text>
 <text x="506" y="1635"><tspan class="b">Developed by Moderna, Inc.</tspan> and <tspan class="b">NIAID</tspan> (U.S.)</text>
 <text x="13" y="1688">Plasmids are circular</text>
 <text x="13" y="1728">DNA vectors</text>
 <text x="723" y="1688">Plasmid is genetically</text>
 <text x="723" y="1728">engineered to</text>
 <text x="723" y="1768">contain spike</text>
 <text x="723" y="1808">protein gene</text>
 <text x="117" y="1915" class="i">Plasmid</text>

 <text x="327" y="2095" class="b">Developed by Inovio</text>
 <text x="292" y="2134"><tspan class="b">Pharmaceuticals</tspan> (U.S.)</text>
 <text x="723" y="1973">Vaccine is delivered</text>
 <text x="723" y="2013">via electroporation –</text>
 <text x="723" y="2053">electrical current</text>
 <text x="723" y="2093">increases antigen</text>
 <text x="723" y="2133">delivery by nearly 1000-fold</text>

 <text x="9" y="2183" font-size="26">Sources: Johns Hopkins University, Trial Site News, WHO</text>
 <text x="1269" y="2183" font-size="26" text-anchor="end">© GRAPHIC NEWS</text>
</g>
</svg>
</body></html>
